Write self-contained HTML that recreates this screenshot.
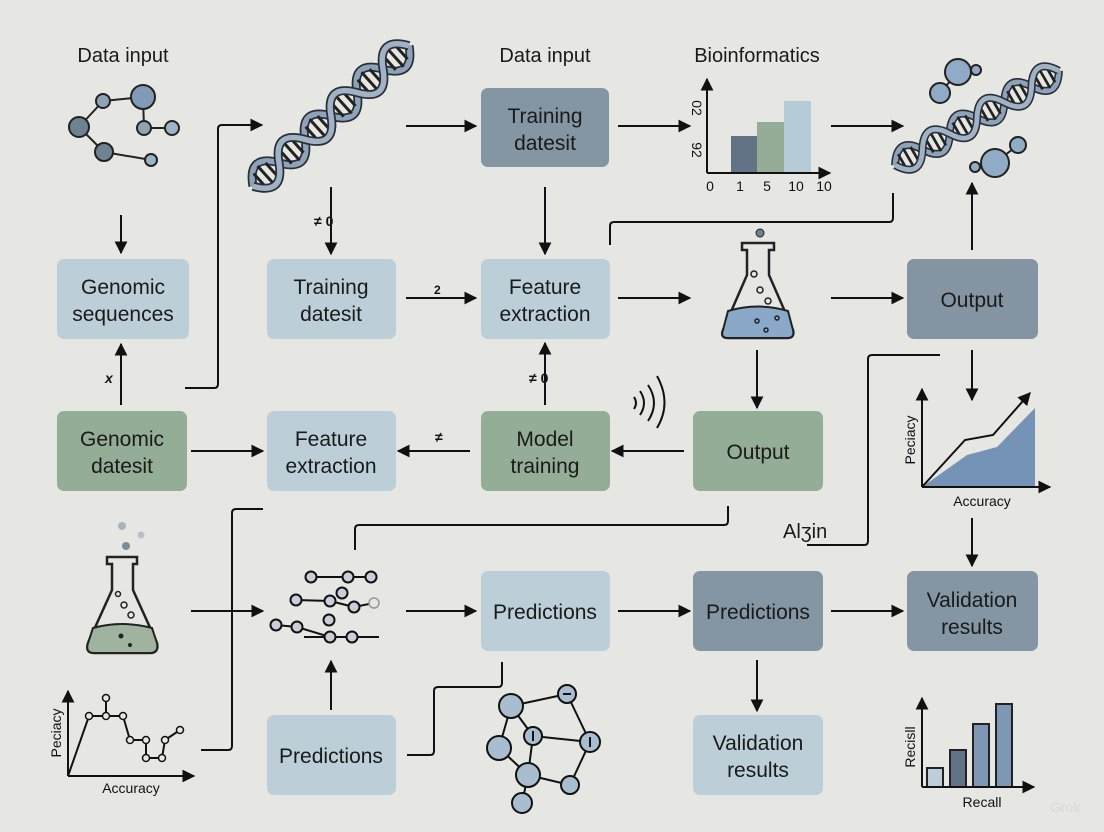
<!DOCTYPE html>
<html><head><meta charset="utf-8"><style>
html,body{margin:0;padding:0;background:#e6e7e2;}
svg{display:block;font-family:"Liberation Sans",sans-serif;}
</style></head><body>
<svg width="1104" height="832" viewBox="0 0 1104 832" xmlns="http://www.w3.org/2000/svg">
<defs>
<marker id="ah" viewBox="0 0 10 10" refX="9" refY="5" markerWidth="6.5" markerHeight="6.5" orient="auto"><path d="M0,0 L10,5 L0,10z" fill="#111"/></marker>
<g id="helix">
 <path d="M-105,0 Q-87.5,-28 -70,0 T-35,0 T0,0 T35,0 T70,0 T105,0" fill="none" stroke="#2a2f36" stroke-width="9"/>
 <path d="M-105,0 Q-87.5,-28 -70,0 T-35,0 T0,0 T35,0 T70,0 T105,0" fill="none" stroke="#8ea3ba" stroke-width="5.5"/>
 <g stroke="#222" stroke-width="3">
  <line x1="-96" y1="-9" x2="-96" y2="9"/><line x1="-88" y1="-12" x2="-88" y2="12"/><line x1="-80" y1="-9" x2="-80" y2="9"/>
  <line x1="-61" y1="-9" x2="-61" y2="9"/><line x1="-53" y1="-12" x2="-53" y2="12"/><line x1="-45" y1="-9" x2="-45" y2="9"/>
  <line x1="-26" y1="-9" x2="-26" y2="9"/><line x1="-18" y1="-12" x2="-18" y2="12"/><line x1="-10" y1="-9" x2="-10" y2="9"/>
  <line x1="9" y1="-9" x2="9" y2="9"/><line x1="17" y1="-12" x2="17" y2="12"/><line x1="25" y1="-9" x2="25" y2="9"/>
  <line x1="44" y1="-9" x2="44" y2="9"/><line x1="52" y1="-12" x2="52" y2="12"/><line x1="60" y1="-9" x2="60" y2="9"/>
  <line x1="79" y1="-9" x2="79" y2="9"/><line x1="87" y1="-12" x2="87" y2="12"/><line x1="95" y1="-9" x2="95" y2="9"/>
 </g>
 <path d="M-105,0 Q-87.5,28 -70,0 T-35,0 T0,0 T35,0 T70,0 T105,0" fill="none" stroke="#2a2f36" stroke-width="9"/>
 <path d="M-105,0 Q-87.5,28 -70,0 T-35,0 T0,0 T35,0 T70,0 T105,0" fill="none" stroke="#9fb2c6" stroke-width="5.5"/>
</g>
</defs>

<g font-size="20" fill="#1a1a1a" text-anchor="middle">
<text x="123" y="62">Data input</text>
<text x="545" y="62">Data input</text>
<text x="757" y="62">Bioinformatics</text>
</g>

<g>
<rect x="57" y="259" width="132" height="80" rx="7" fill="#bccfd9"/>
<rect x="481" y="88" width="128" height="79" rx="7" fill="#8496a4"/>
<rect x="267" y="259" width="129" height="80" rx="7" fill="#bccfd9"/>
<rect x="481" y="259" width="129" height="80" rx="7" fill="#bccfd9"/>
<rect x="907" y="259" width="131" height="80" rx="7" fill="#8494a2"/>
<rect x="57" y="411" width="130" height="80" rx="7" fill="#93ad96"/>
<rect x="267" y="411" width="129" height="80" rx="7" fill="#bccfd9"/>
<rect x="481" y="411" width="129" height="80" rx="7" fill="#93ad96"/>
<rect x="693" y="411" width="130" height="80" rx="7" fill="#93ad96"/>
<rect x="481" y="571" width="129" height="80" rx="7" fill="#bccfd9"/>
<rect x="693" y="571" width="130" height="80" rx="7" fill="#8496a4"/>
<rect x="907" y="571" width="131" height="80" rx="7" fill="#8496a4"/>
<rect x="267" y="715" width="129" height="80" rx="7" fill="#bccfd9"/>
<rect x="693" y="715" width="130" height="80" rx="7" fill="#bccfd9"/>
</g>
<g font-size="21" fill="#1a1a1a" text-anchor="middle">
<text x="123" y="294">Genomic</text><text x="123" y="321">sequences</text>
<text x="545" y="123">Training</text><text x="545" y="150">datesit</text>
<text x="331" y="294">Training</text><text x="331" y="321">datesit</text>
<text x="545" y="294">Feature</text><text x="545" y="321">extraction</text>
<text x="972" y="307">Output</text>
<text x="122" y="446">Genomic</text><text x="122" y="473">datesit</text>
<text x="331" y="446">Feature</text><text x="331" y="473">extraction</text>
<text x="545" y="446">Model</text><text x="545" y="473">training</text>
<text x="758" y="459">Output</text>
<text x="545" y="619">Predictions</text>
<text x="758" y="619">Predictions</text>
<text x="972" y="607">Validation</text><text x="972" y="634">results</text>
<text x="331" y="763">Predictions</text>
<text x="758" y="750">Validation</text><text x="758" y="777">results</text>
</g>

<g stroke="#111" stroke-width="2" fill="none" marker-end="url(#ah)">
<line x1="121" y1="215" x2="121" y2="253"/>
<line x1="121" y1="405" x2="121" y2="344"/>
<path d="M185,388 L214,388 Q218,388 218,384 L218,129 Q218,125 222,125 L262,125"/>
<line x1="331" y1="187" x2="331" y2="254"/>
<line x1="406" y1="126" x2="476" y2="126"/>
<line x1="618" y1="126" x2="690" y2="126"/>
<line x1="831" y1="126" x2="903" y2="126"/>
<line x1="545" y1="187" x2="545" y2="254"/>
<line x1="406" y1="298" x2="476" y2="298"/>
<line x1="618" y1="298" x2="690" y2="298"/>
<line x1="831" y1="298" x2="903" y2="298"/>
<line x1="972" y1="250" x2="972" y2="183"/>
<line x1="545" y1="405" x2="545" y2="343"/>
<line x1="470" y1="451" x2="398" y2="451"/>
<line x1="684" y1="451" x2="612" y2="451"/>
<line x1="191" y1="451" x2="263" y2="451"/>
<line x1="757" y1="350" x2="757" y2="408"/>
<line x1="972" y1="350" x2="972" y2="400"/>
<line x1="191" y1="611" x2="263" y2="611"/>
<line x1="331" y1="710" x2="331" y2="661"/>
<line x1="406" y1="611" x2="476" y2="611"/>
<line x1="618" y1="611" x2="690" y2="611"/>
<line x1="831" y1="611" x2="903" y2="611"/>
<line x1="757" y1="660" x2="757" y2="711"/>
<line x1="972" y1="518" x2="972" y2="566"/>
</g>
<g stroke="#111" stroke-width="2" fill="none">
<path d="M610,245 L610,226 Q610,222 614,222 L889,222 Q893,222 893,218 L893,193"/>
<path d="M940,355 L872,355 Q868,355 868,359 L868,541 Q868,545 864,545 L807,545"/>
<path d="M728,506 L728,521 Q728,525 724,525 L359,525 Q355,525 355,529 L355,550"/>
<path d="M263,509 L236,509 Q232,509 232,513 L232,746 Q232,750 228,750 L201,750"/>
<path d="M502,662 L502,683 Q502,687 498,687 L438,687 Q434,687 434,691 L434,751 Q434,755 430,755 L407,755"/>
</g>
<g font-size="14" font-weight="bold" fill="#111">
<text x="105" y="383" font-style="italic">x</text>
<text x="314" y="226">≠ 0</text>
<text x="529" y="383">≠ 0</text>
<text x="434" y="294" font-size="12">2</text>
<text x="435" y="442">≠</text>
</g>
<text x="783" y="538" font-size="20" fill="#1a1a1a">Alʒin</text>

<g stroke="#222" stroke-width="2">
<line x1="103" y1="101" x2="143" y2="97"/><line x1="103" y1="101" x2="79" y2="127"/>
<line x1="79" y1="127" x2="104" y2="152"/><line x1="104" y1="152" x2="151" y2="160"/>
<line x1="143" y1="97" x2="144" y2="128"/><line x1="144" y1="128" x2="172" y2="128"/>
<circle cx="103" cy="101" r="7" fill="#8ea3b5"/><circle cx="143" cy="97" r="12" fill="#7f9bb8"/>
<circle cx="79" cy="127" r="10" fill="#6f8292"/><circle cx="144" cy="128" r="7" fill="#8ea3b5"/>
<circle cx="172" cy="128" r="7" fill="#9db4c8"/><circle cx="104" cy="152" r="9" fill="#6f8292"/>
<circle cx="151" cy="160" r="6" fill="#9db4c8"/>
</g>

<use href="#helix" transform="translate(331,116) rotate(-42)"/>
<use href="#helix" transform="translate(977,118) rotate(-30) scale(0.9)"/>
<g stroke="#222" stroke-width="2" fill="#90abc6">
<line x1="940" y1="93" x2="958" y2="72"/><line x1="995" y1="163" x2="1018" y2="145"/>
<circle cx="958" cy="72" r="13"/><circle cx="940" cy="93" r="10"/><circle cx="976" cy="70" r="5"/>
<circle cx="995" cy="163" r="14"/><circle cx="1018" cy="145" r="8"/><circle cx="975" cy="167" r="5"/>
</g>

<rect x="731" y="136" width="26" height="37" fill="#627385"/>
<rect x="757" y="122" width="27" height="51" fill="#95ad96"/>
<rect x="784" y="101" width="27" height="72" fill="#b6cbd8"/>
<g stroke="#111" stroke-width="2" fill="none" marker-end="url(#ah)">
<path d="M707,173 L707,79"/><path d="M707,173 L830,173"/>
</g>
<g font-size="14" fill="#111" text-anchor="middle">
<text x="710" y="191">0</text><text x="740" y="191">1</text><text x="767" y="191">5</text><text x="796" y="191">10</text><text x="824" y="191">10</text>
<text transform="translate(692,108) rotate(90)">02</text>
<text transform="translate(692,150) rotate(90)">92</text>
</g>

<path d="M742,243 L774,243 L774,250 L769,250 L769,275 L793,330 Q795,338 787,338 L728,338 Q720,338 723,330 L747,275 L747,250 L742,250 Z" fill="none" stroke="#222" stroke-width="2.5"/>
<path d="M728,311 Q758,302 788,311 L793,330 Q795,338 787,338 L728,338 Q720,338 723,330 Z" fill="#8aa9c8" stroke="#222" stroke-width="2"/>
<circle cx="760" cy="233" r="4" fill="#6f8292" stroke="#222" stroke-width="1"/>
<g fill="none" stroke="#222" stroke-width="1.5"><circle cx="754" cy="274" r="3"/><circle cx="760" cy="290" r="3"/><circle cx="768" cy="301" r="3"/><circle cx="757" cy="321" r="2"/><circle cx="777" cy="318" r="2"/><circle cx="766" cy="330" r="2"/></g>

<g fill="none" stroke="#111" stroke-width="2">
<path d="M634,397 Q638,403 634,409"/><path d="M640,391 Q648,403 640,415"/><path d="M648,385 Q660,403 648,421"/><path d="M657,376 Q672,403 657,428"/>
</g>

<polygon points="922,487 967,455 997,447 1035,408 1035,487" fill="#7593b6"/>
<polyline points="922,487 965,440 993,435 1030,393" fill="none" stroke="#111" stroke-width="2" marker-end="url(#ah)"/>
<g stroke="#111" stroke-width="2" fill="none" marker-end="url(#ah)">
<path d="M922,487 L922,389"/><path d="M922,487 L1050,487"/>
</g>
<text x="982" y="506" font-size="14" fill="#111" text-anchor="middle">Accuracy</text>
<text transform="translate(915,440) rotate(-90)" font-size="14" fill="#111" text-anchor="middle">Peciacy</text>

<g stroke="#222" stroke-width="2">
<rect x="927" y="768" width="16" height="19" fill="#bccfd9"/>
<rect x="950" y="750" width="16" height="37" fill="#627385"/>
<rect x="973" y="724" width="16" height="63" fill="#7d97b5"/>
<rect x="996" y="704" width="16" height="83" fill="#7d97b5"/>
</g>
<g stroke="#111" stroke-width="2" fill="none" marker-end="url(#ah)">
<path d="M922,787 L922,698"/><path d="M922,787 L1034,787"/>
</g>
<text x="982" y="807" font-size="14" fill="#111" text-anchor="middle">Recall</text>
<text transform="translate(915,747) rotate(-90)" font-size="14" fill="#111" text-anchor="middle">Recisll</text>
<text x="1050" y="812" font-size="14" fill="#d8d9d4">Grok</text>

<circle cx="122" cy="526" r="4" fill="#a7b3bd"/><circle cx="141" cy="535" r="3.5" fill="#b6c0c8"/><circle cx="126" cy="546" r="4" fill="#7f8d98"/>
<path d="M107,557 L137,557 L137,564 L133,564 L133,590 L157,643 Q159,653 150,653 L94,653 Q85,653 88,643 L112,590 L112,564 L107,564 Z" fill="none" stroke="#222" stroke-width="2.5"/>
<path d="M93,628 Q122,620 152,628 L157,643 Q159,653 150,653 L94,653 Q85,653 88,643 Z" fill="#9fb39f" stroke="#222" stroke-width="2"/>
<g fill="none" stroke="#222" stroke-width="1.5"><circle cx="118" cy="594" r="2.5"/><circle cx="124" cy="605" r="3"/><circle cx="131" cy="615" r="3"/></g>
<circle cx="121" cy="636" r="2.5" fill="#222"/><circle cx="130" cy="645" r="2" fill="#222"/>

<g stroke="#111" stroke-width="2" fill="none" marker-end="url(#ah)">
<path d="M68,776 L68,691"/><path d="M68,776 L194,776"/>
</g>
<polyline points="68,776 89,716 106,716 123,716 130,740 146,740 146,758 162,758 165,740 180,730" fill="none" stroke="#111" stroke-width="2"/>
<line x1="106" y1="716" x2="106" y2="698" stroke="#111" stroke-width="2"/>
<g fill="#e6e7e2" stroke="#111" stroke-width="1.5">
<circle cx="89" cy="716" r="3.5"/><circle cx="106" cy="716" r="3.5"/><circle cx="106" cy="698" r="3.5"/><circle cx="123" cy="716" r="3.5"/><circle cx="130" cy="740" r="3.5"/><circle cx="146" cy="740" r="3.5"/><circle cx="146" cy="758" r="3.5"/><circle cx="162" cy="758" r="3.5"/><circle cx="165" cy="740" r="3.5"/><circle cx="180" cy="730" r="3.5"/>
</g>
<text x="131" y="793" font-size="14" fill="#111" text-anchor="middle">Accuracy</text>
<text transform="translate(61,733) rotate(-90)" font-size="14" fill="#111" text-anchor="middle">Peciacy</text>

<g stroke="#111" stroke-width="2">
<line x1="311" y1="577" x2="371" y2="577"/>
<line x1="296" y1="600" x2="330" y2="601"/><line x1="330" y1="601" x2="354" y2="607"/><line x1="354" y1="607" x2="374" y2="603"/>
<line x1="276" y1="625" x2="297" y2="627"/><line x1="297" y1="627" x2="330" y2="637"/><line x1="304" y1="637" x2="379" y2="637"/>
</g>
<g fill="#c9cfd8" stroke="#111" stroke-width="2">
<circle cx="311" cy="577" r="5.5"/><circle cx="348" cy="577" r="5.5"/><circle cx="371" cy="577" r="5.5"/>
<circle cx="296" cy="600" r="5.5"/><circle cx="342" cy="593" r="5.5"/><circle cx="330" cy="601" r="5.5"/><circle cx="354" cy="607" r="5.5"/>
<circle cx="276" cy="625" r="5.5"/><circle cx="297" cy="627" r="5.5"/><circle cx="329" cy="620" r="5.5"/><circle cx="330" cy="637" r="5.5"/><circle cx="352" cy="637" r="5.5"/>
</g>
<circle cx="374" cy="603" r="5" fill="#e6e7e2" stroke="#999" stroke-width="1.5"/>

<g stroke="#111" stroke-width="2">
<line x1="511" y1="706" x2="567" y2="694"/><line x1="511" y1="706" x2="499" y2="748"/><line x1="511" y1="706" x2="533" y2="736"/>
<line x1="533" y1="736" x2="528" y2="775"/><line x1="499" y1="748" x2="528" y2="775"/><line x1="528" y1="775" x2="522" y2="803"/>
<line x1="533" y1="736" x2="590" y2="742"/><line x1="528" y1="775" x2="570" y2="785"/><line x1="590" y1="742" x2="570" y2="785"/><line x1="567" y1="694" x2="590" y2="742"/>
</g>
<g fill="#a9bdd0" stroke="#111" stroke-width="2">
<circle cx="511" cy="706" r="12"/><circle cx="567" cy="694" r="9"/><circle cx="533" cy="736" r="9"/><circle cx="499" cy="748" r="12"/>
<circle cx="528" cy="775" r="12"/><circle cx="522" cy="803" r="10"/><circle cx="590" cy="742" r="10"/><circle cx="570" cy="785" r="9"/>
</g>
<g stroke="#111" stroke-width="2"><line x1="563" y1="694" x2="571" y2="694"/><line x1="533" y1="731" x2="533" y2="741"/><line x1="590" y1="737" x2="590" y2="747"/></g>
</svg>
</body></html>
